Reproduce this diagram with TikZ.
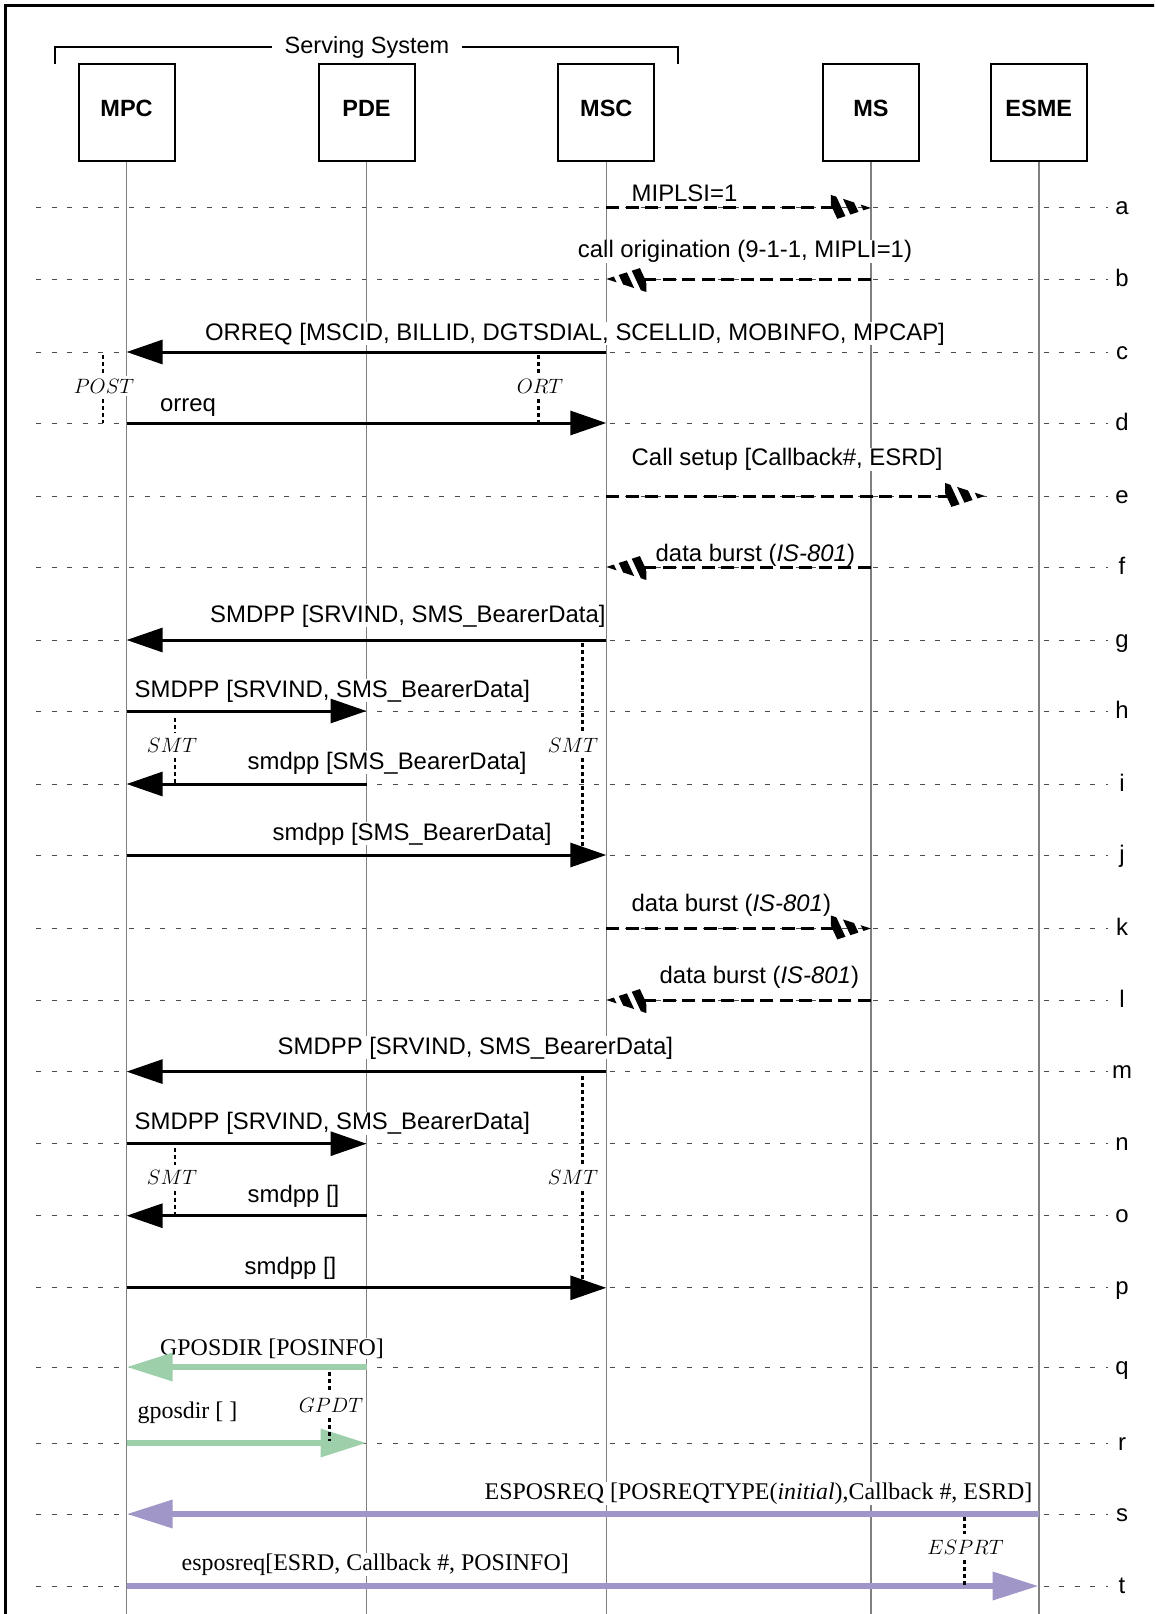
\documentclass[tikz,border=0pt]{standalone}
\usepackage{fontspec}
\usetikzlibrary{arrows.meta}
\newfontfamily\sansf{Liberation Sans}
\newfontfamily\seriff{Liberation Serif}
\definecolor{gposgreen}{RGB}{157,208,170}
\definecolor{espurple}{RGB}{161,150,200}
\definecolor{lifegray}{RGB}{128,128,128}

% striped head of a dashed message, tip at #1
\newcommand{\hatchright}[1]{%
  \begin{scope}[shift={(#1)}]
    \clip (0,0) -- (-40,-13) -- (-40,13) -- cycle;
    \foreach \o in {-34,-19,-4}
      \draw[line width=8.5pt] (\o-7,-15) -- (\o+7,15);
  \end{scope}}
\newcommand{\hatchleft}[1]{%
  \begin{scope}[shift={(#1)}]
    \clip (0,0) -- (40,-13) -- (40,13) -- cycle;
    \foreach \o in {4,19,34}
      \draw[line width=8.5pt] (\o-7,-15) -- (\o+7,15);
  \end{scope}}
% timer: name, line x, top, bottom, label x, label y, label
\newcommand{\timer}[7]{%
  \node[tlbl] (#1) at (#5,#6) {$#7$};
  \coordinate (#1-top) at (#2,#3);
  \coordinate (#1-up) at (#2,#6-13);
  \coordinate (#1-dn) at (#2,#6+13);
  \coordinate (#1-bot) at (#2,#4);
  \draw[timerline] (#1-top) -- (#1-up);
  \draw[timerline] (#1-dn) -- (#1-bot);}

\begin{document}
\begin{tikzpicture}[x=1pt,y=-1pt,
  entity/.style={draw=black, line width=2pt, fill=white, minimum width=96pt, minimum height=97pt, inner sep=0pt},
  entlbl/.style={font=\sansf\bfseries\fontsize{23.5}{28}\selectfont, inner sep=0pt},
  lifeline/.style={draw=lifegray, line width=1.6pt},
  rowline/.style={draw=black!70, line width=1pt, dash pattern=on 5pt off 10.5pt},
  rowlbl/.style={font=\sansf\fontsize{23.9}{28}\selectfont, inner sep=0pt, anchor=base},
  msglbl/.style={font=\sansf\fontsize{23.9}{28}\selectfont, inner sep=0.5pt, fill=white},
  serlbl/.style={font=\seriff\fontsize{23.9}{28}\selectfont, inner sep=0.5pt, fill=white},
  msg/.style={draw=black, line width=3pt, -{Triangle[length=36pt,width=24pt]}},
  dmsg/.style={draw=black, line width=3pt, dash pattern=on 13pt off 6.5pt},
  gmsg/.style={draw=gposgreen, line width=6.5pt, -{Triangle[length=46pt,width=27pt]}},
  pmsg/.style={draw=espurple, line width=6.5pt, -{Triangle[length=46pt,width=27pt]}},
  timerline/.style={draw=black, line width=2.5pt, dash pattern=on 4pt off 3pt},
  tlbl/.style={font=\fontsize{20}{24}\selectfont, inner xsep=1pt, inner ysep=3pt, fill=white},
]
\useasboundingbox (0,0) rectangle (1154,1614);
\clip (0,0) rectangle (1154,1614);
\fill[white] (0,0) rectangle (1154,1614);

% outer frame
\draw[line width=3pt] (5.5,5.5) rectangle (1200,1700);

% serving system bracket
\draw[line width=2pt] (54.6,64) -- (54.6,47) -- (678.4,47) -- (678.4,64);
\node[font=\sansf\fontsize{23.5}{28}\selectfont, fill=white, inner xsep=13pt, inner ysep=1pt, anchor=base] (ss) at (367,53.7) {Serving System};

% entities
\node[entity] (MPC)  at (126.6,112.5) {};
\node[entity] (PDE)  at (366.5,112.5) {};
\node[entity] (MSC)  at (606.3,112.5) {};
\node[entity] (MS)   at (870.9,112.5) {};
\node[entity] (ESME) at (1038.7,112.5) {};
\foreach \e in {MPC,PDE,MSC,MS,ESME}
  \node[entlbl] (\e-name) at ([yshift=4.5pt]\e.center) {\e};

\coordinate (bottom) at (0,1620);
\coordinate (e-end) at (985,496);

% rows
\foreach \n/\y in {a/207.9,b/279,c/352,d/423,e/496,f/567,g/640,h/711,i/784,j/855,k/928.5,l/1000,m/1071.6,n/1143.7,o/1215.7,p/1287.8,q/1367,r/1443,s/1514,t/1586} {
  \coordinate (r\n) at (0,\y);
  \draw[rowline] (36,\y) -- (1108,\y);
  \node[rowlbl] (row-\n) at (1122,\y+7) {\n};
}

% lifelines
\foreach \e in {MPC,PDE,MSC,MS,ESME}
  \draw[lifeline] (\e.south) -- (\e |- bottom);

% message labels
\node[msglbl, anchor=base west] (m-a) at (631,201) {MIPLSI=1};
\node[msglbl, anchor=base] (m-b) at (745,257.5) {call origination (9-1-1, MIPLI=1)};
\node[msglbl, anchor=base] (m-c) at (575,340) {ORREQ [MSCID, BILLID, DGTSDIAL, SCELLID, MOBINFO, MPCAP]};
\node[msglbl, anchor=base west] (m-d) at (159.5,411) {orreq};
\node[msglbl, anchor=base west] (m-e) at (631,465.5) {Call setup [Callback\#, ESRD]};
\node[msglbl, anchor=base west] (m-f) at (655,561.5) {data burst (\textit{IS-801})};
\node[msglbl, anchor=base east] (m-g) at (606.3,622) {SMDPP [SRVIND, SMS\_BearerData]};
\node[msglbl, anchor=base west] (m-h) at (134,697) {SMDPP [SRVIND, SMS\_BearerData]};
\node[msglbl, anchor=base west] (m-i) at (247,769) {smdpp [SMS\_BearerData]};
\node[msglbl, anchor=base west] (m-j) at (272,840) {smdpp [SMS\_BearerData]};
\node[msglbl, anchor=base west] (m-k) at (631,911) {data burst (\textit{IS-801})};
\node[msglbl, anchor=base west] (m-l) at (659,983) {data burst (\textit{IS-801})};
\node[msglbl, anchor=base west] (m-m) at (277,1054) {SMDPP [SRVIND, SMS\_BearerData]};
\node[msglbl, anchor=base west] (m-n) at (134,1129.5) {SMDPP [SRVIND, SMS\_BearerData]};
\node[msglbl, anchor=base west] (m-o) at (247,1202.5) {smdpp []};
\node[msglbl, anchor=base west] (m-p) at (244,1274.5) {smdpp []};
\node[serlbl, anchor=base west] (m-q) at (159.5,1355) {GPOSDIR [POSINFO]};
\node[serlbl, anchor=base west] (m-r) at (137,1418) {gposdir [ ]};
\node[serlbl, anchor=base west] (m-s) at (484,1499) {ESPOSREQ [POSREQTYPE(\textit{initial}),Callback \#, ESRD]};
\node[serlbl, anchor=base west] (m-t) at (181,1570) {esposreq[ESRD, Callback \#, POSINFO]};

% air-interface messages (dashed)
\draw[dmsg] (MSC|-ra) -- ([xshift=-36pt]MS|-ra);   \hatchright{MS|-ra}
\draw[dmsg] (MS|-rb) -- ([xshift=36pt]MSC|-rb);    \hatchleft{MSC|-rb}
\draw[dmsg] (MSC|-re) -- ([xshift=-36pt]e-end);    \hatchright{e-end}
\draw[dmsg] (MS|-rf) -- ([xshift=36pt]MSC|-rf);    \hatchleft{MSC|-rf}
\draw[dmsg] (MSC|-rk) -- ([xshift=-36pt]MS|-rk);   \hatchright{MS|-rk}
\draw[dmsg] (MS|-rl) -- ([xshift=36pt]MSC|-rl);    \hatchleft{MSC|-rl}

% network messages
\draw[msg] (MSC|-rc) -- (MPC|-rc);
\draw[msg] (MPC|-rd) -- (MSC|-rd);
\draw[msg] (MSC|-rg) -- (MPC|-rg);
\draw[msg] (MPC|-rh) -- (PDE|-rh);
\draw[msg] (PDE|-ri) -- (MPC|-ri);
\draw[msg] (MPC|-rj) -- (MSC|-rj);
\draw[msg] (MSC|-rm) -- (MPC|-rm);
\draw[msg] (MPC|-rn) -- (PDE|-rn);
\draw[msg] (PDE|-ro) -- (MPC|-ro);
\draw[msg] (MPC|-rp) -- (MSC|-rp);
\draw[gmsg] (PDE|-rq) -- (MPC|-rq);
\draw[gmsg] (MPC|-rr) -- (PDE|-rr);
\draw[pmsg] (ESME|-rs) -- (MPC|-rs);
\draw[pmsg] (MPC|-rt) -- (ESME|-rt);

% timers
\timer{post}{103}{355}{423}{104}{386}{POST}
\timer{ort}{538.4}{355}{423}{540}{386}{ORT}
\timer{smt1}{582.6}{643}{854}{573}{745}{SMT}
\timer{smt2}{175}{717.5}{784}{172}{745}{SMT}
\timer{smt3}{582.6}{1076}{1287}{573}{1177.6}{SMT}
\timer{smt4}{175}{1148}{1216}{172}{1177.6}{SMT}
\timer{gpdt}{329.4}{1372}{1441}{331}{1405}{GPDT}
\timer{esprt}{964.6}{1517}{1585}{965.5}{1547}{ESPRT}
\end{tikzpicture}
\end{document}
